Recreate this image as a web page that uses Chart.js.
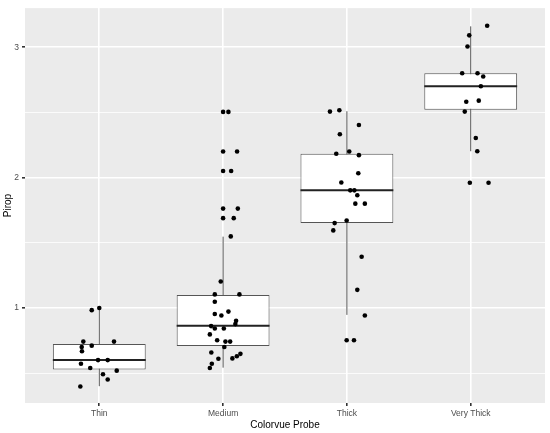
<!DOCTYPE html>
<html><head><meta charset="utf-8">
<script src="https://cdn.jsdelivr.net/npm/chart.js@4/dist/chart.umd.min.js"></script>
<style>html,body{margin:0;padding:0;background:#fff;}#wrap{width:550px;height:433px;}</style>
</head><body><div id="wrap"><canvas id="c" width="550" height="433"></canvas></div>
<script>
const CATEGORIES = ["Thin", "Medium", "Thick", "Very Thick"];
const Y_TICKS = [0.5, 1, 1.5, 2, 2.5, 3];

// box statistics per category
const Q1 = [0.527, 0.709, 1.651, 2.521];
const MEDIAN = [0.600, 0.863, 1.902, 2.701];
const Q3 = [0.724, 1.099, 2.183, 2.800];
const WHISKER_LO = [0.400, 0.542, 0.947, 2.202];
const WHISKER_HI = [1.000, 1.547, 2.509, 3.160];

// jittered observations (value, horizontal jitter in category units)
const THIN_Y = [0.983, 1.0, 0.742, 0.742, 0.711, 0.70, 0.668, 0.60, 0.60, 0.572, 0.539, 0.519, 0.491, 0.451, 0.398];
const THIN_J = [-0.061, 0, -0.129, 0.119, -0.061, -0.142, -0.140, -0.010, 0.068, -0.148, -0.073, 0.141, 0.030, 0.068, -0.153];
const MEDIUM_Y = [2.504, 2.504, 2.20, 2.20, 2.051, 2.051, 1.762, 1.762, 1.689, 1.689, 1.549, 1.203, 1.104, 1.104, 1.048, 0.954, 0.942, 0.972, 0.901, 0.876, 0.861, 0.843, 0.843, 0.797, 0.752, 0.742, 0.742, 0.701, 0.658, 0.613, 0.648, 0.630, 0.610, 0.572, 0.539];
const MEDIUM_J = [0, 0.043, 0, 0.113, 0, 0.065, 0, 0.119, 0, 0.086, 0.062, -0.019, -0.067, 0.132, -0.067, -0.067, -0.014, 0.043, 0.105, 0.099, -0.097, -0.067, 0.006, -0.107, -0.048, 0.019, 0.057, 0.010, -0.095, 0.075, 0.140, 0.111, -0.038, -0.091, -0.107];
const THICK_Y = [2.506, 2.517, 2.403, 2.332, 2.183, 2.20, 2.172, 2.033, 1.962, 1.902, 1.902, 1.864, 1.80, 1.80, 1.671, 1.651, 1.595, 1.393, 1.139, 0.942, 0.752, 0.752];
const THICK_J = [-0.137, -0.061, 0.097, -0.057, -0.086, 0.019, 0.097, 0.092, -0.045, 0.027, 0.060, 0.084, 0.068, 0.145, -0.002, -0.099, -0.110, 0.119, 0.084, 0.145, -0.002, 0.057];
const VTHICK_Y = [3.165, 3.091, 3.005, 2.80, 2.80, 2.775, 2.701, 2.582, 2.590, 2.506, 2.304, 2.202, 1.96, 1.96];
const VTHICK_J = [0.133, -0.012, -0.026, -0.069, 0.055, 0.101, 0.082, -0.036, 0.065, -0.048, 0.041, 0.053, -0.007, 0.144];

const OBS_Y = [THIN_Y, MEDIUM_Y, THICK_Y, VTHICK_Y];
const OBS_J = [THIN_J, MEDIUM_J, THICK_J, VTHICK_J];

const BOX_WIDTH = 0.75;
const HALF = BOX_WIDTH / 2;

const boxData = CATEGORIES.map((c, i) => ({x: i, y: [Q1[i], Q3[i]]}));
const whiskerData = [];
CATEGORIES.forEach((c, i) => {
  whiskerData.push({x: i, y: WHISKER_LO[i]}, {x: i, y: WHISKER_HI[i]}, {x: i, y: null});
});
const medianData = [];
CATEGORIES.forEach((c, i) => {
  medianData.push({x: i - HALF, y: MEDIAN[i]}, {x: i + HALF, y: MEDIAN[i]}, {x: i, y: null});
});
const pointData = [];
OBS_Y.forEach((arr, i) => arr.forEach((v, j) => pointData.push({x: i + OBS_J[i][j], y: v})));

const panelBg = {
  id: 'panelBg',
  beforeDraw(chart) {
    const a = chart.chartArea, ctx = chart.ctx;
    ctx.save();
    ctx.fillStyle = '#EBEBEB';
    ctx.fillRect(a.left, a.top, a.right - a.left, a.bottom - a.top);
    ctx.restore();
  }
};

const FONT = "'Liberation Sans', Arial, sans-serif";

new Chart(document.getElementById('c'), {
  type: 'scatter',
  data: {
    datasets: [
      {type: 'line', data: whiskerData, borderColor: '#555555', borderWidth: 1, pointRadius: 0, spanGaps: false, order: 4},
      {type: 'bar', data: boxData, backgroundColor: '#FFFFFF', borderColor: '#555555', borderWidth: 1, borderSkipped: false, barPercentage: BOX_WIDTH, categoryPercentage: 1, grouped: false, order: 3},
      {type: 'line', data: medianData, borderColor: '#222222', borderWidth: 2, pointRadius: 0, spanGaps: false, order: 2},
      {type: 'scatter', data: pointData, backgroundColor: '#000000', borderWidth: 0, pointRadius: 2.3, order: 1}
    ]
  },
  options: {
    responsive: false,
    animation: false,
    events: [],
    layout: {padding: {left: 0, right: 5, top: 4, bottom: 0}},
    plugins: {legend: {display: false}, tooltip: {enabled: false}},
    scales: {
      x: {
        type: 'linear', min: -0.6, max: 3.6, offset: false,
        border: {display: false},
        grid: {offset: false, color: '#FFFFFF', lineWidth: 1.6, tickColor: '#333333', tickLength: 3},
        afterBuildTicks(s) { s.ticks = CATEGORIES.map((c, i) => ({value: i})); },
        afterFit(s) { s.height = 30; },
        ticks: {autoSkip: false, maxRotation: 0, padding: 3, color: '#4D4D4D', font: {family: FONT, size: 8.5},
          callback: (v) => CATEGORIES[v]},
        title: {display: true, text: 'Colorvue Probe', color: '#000000', font: {family: FONT, size: 10}, padding: {top: 0, bottom: 1.5}}
      },
      y: {
        type: 'linear', min: 0.271, max: 3.30, beginAtZero: false,
        border: {display: false},
        grid: {
          color: '#FFFFFF',
          lineWidth: (ctx) => (ctx.tick && ctx.tick.value % 1 === 0) ? 1.6 : 0.8,
          tickColor: (ctx) => (ctx.tick && ctx.tick.value % 1 === 0) ? '#333333' : 'rgba(0,0,0,0)',
          tickLength: 3
        },
        afterBuildTicks(s) { s.ticks = Y_TICKS.map(v => ({value: v})); },
        afterFit(s) { s.width = 25; },
        ticks: {padding: 3, color: '#4D4D4D', font: {family: FONT, size: 8.5},
          callback: (v) => (v % 1 === 0 ? String(v) : '')},
        title: {display: true, text: 'Pirop', color: '#000000', font: {family: FONT, size: 10}, padding: {top: 2, bottom: 2}}
      }
    }
  },
  plugins: [panelBg]
});
</script></body></html>
